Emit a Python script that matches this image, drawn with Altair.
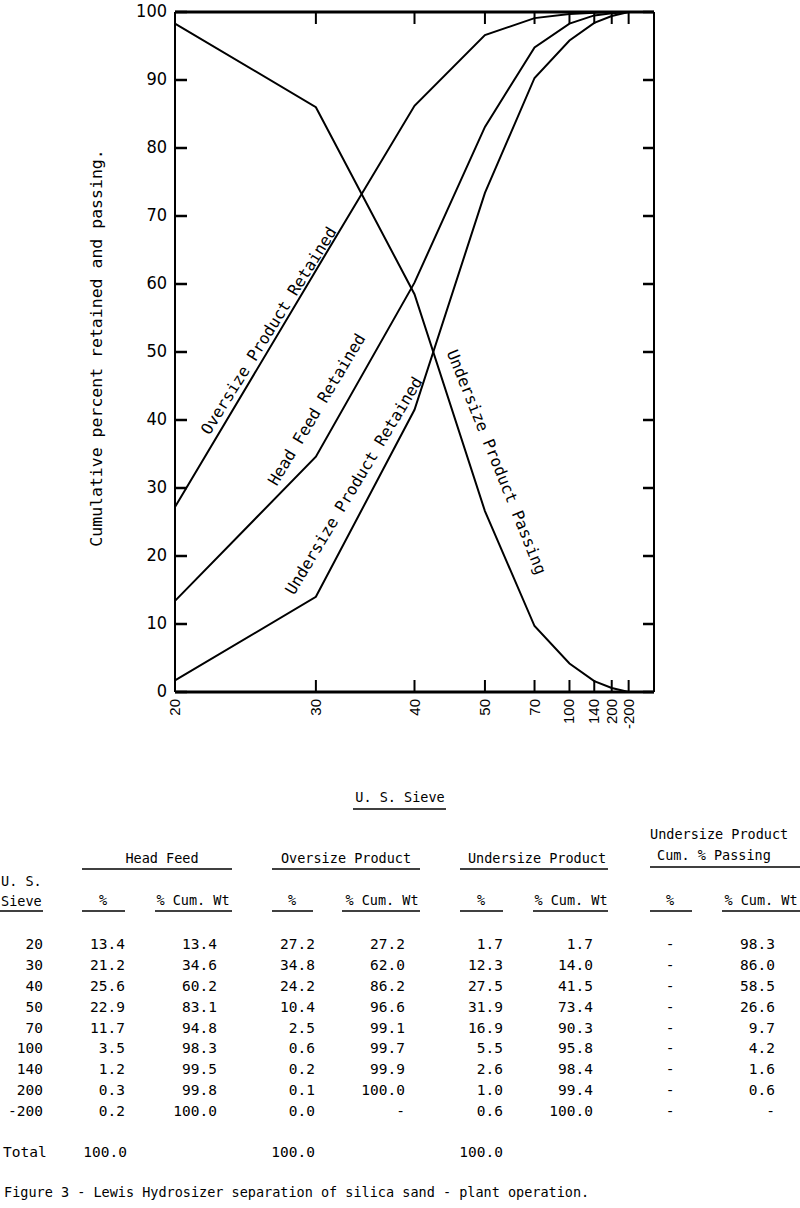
import altair as alt
import pandas as pd

# ---------------- data ----------------
sieves = ["20", "30", "40", "50", "70", "100", "140", "200", "-200"]
aperture_um = [850, 600, 425, 300, 212, 150, 106, 75, 45]   # sieve opening (pan placed after 200)

head_pct = [13.4, 21.2, 25.6, 22.9, 11.7, 3.5, 1.2, 0.3, 0.2]
head_cum = [13.4, 34.6, 60.2, 83.1, 94.8, 98.3, 99.5, 99.8, 100.0]
over_pct = [27.2, 34.8, 24.2, 10.4, 2.5, 0.6, 0.2, 0.1, 0.0]
over_cum = [27.2, 62.0, 86.2, 96.6, 99.1, 99.7, 99.9, 100.0, None]
under_pct = [1.7, 12.3, 27.5, 31.9, 16.9, 5.5, 2.6, 1.0, 0.6]
under_cum = [1.7, 14.0, 41.5, 73.4, 90.3, 95.8, 98.4, 99.4, 100.0]
pass_pct = [None] * 9
pass_cum = [98.3, 86.0, 58.5, 26.6, 9.7, 4.2, 1.6, 0.6, None]
totals = {"head": 100.0, "over": 100.0, "under": 100.0}

# values as drawn on the graph (curves reach 100 / 0 at the pan)
line_over = [27.2, 62.0, 86.2, 96.6, 99.1, 99.7, 99.9, 100.0, 100.0]
line_head = head_cum
line_under = under_cum
line_pass = [98.3, 86.0, 58.5, 26.6, 9.7, 4.2, 1.6, 0.6, 0.0]

y_ticks = [0, 10, 20, 30, 40, 50, 60, 70, 80, 90, 100]

line_labels = [
    ("Oversize Product Retained", 683, 53.1, 302),
    ("Head Feed Retained", 598, 41.5, 301),
    ("Undersize Product Retained", 532, 30.3, 301),
    ("Undersize Product Passing", 280, 33.8, 68),
]

caption = "Figure 3 - Lewis Hydrosizer separation of silica sand - plant operation."

# ---------------- style / layout ----------------
MONO = "DejaVu Sans Mono"
NARROW = "Liberation Sans Narrow, DejaVu Sans Condensed, Liberation Sans, sans-serif"
SANS = "Liberation Sans, Arial, sans-serif"
X0, X1, YT, YB = 175, 654, 12, 692

xs = alt.Scale(domain=[850, 0], range=[X0, X1], nice=False, zero=False)
ys = alt.Scale(domain=[0, 100], range=[YB, YT], nice=False, zero=False)
px = alt.Scale(domain=[0, 800], range=[0, 800], nice=False, zero=False)
py = alt.Scale(domain=[0, 1208], range=[0, 1208], nice=False, zero=False)

layers = []

# curves
rows = []
for name, vals in [("over", line_over), ("head", line_head), ("under", line_under), ("pass", line_pass)]:
    for i, (a, v) in enumerate(zip(aperture_um, vals)):
        rows.append({"series": name, "ap": a, "v": v, "i": i})
df_lines = pd.DataFrame(rows)
layers.append(
    alt.Chart(df_lines).mark_line(color="black", strokeWidth=2).encode(
        x=alt.X("ap:Q", scale=xs, axis=None),
        y=alt.Y("v:Q", scale=ys, axis=None),
        detail="series:N",
        order="i:Q",
    )
)

# frame
dummy = pd.DataFrame({"a": [0]})
frame = [
    (X0, X0, YT, YB, 2),
    (X1, X1, YT, YB, 2),
    (X0, X1, YT, YT, 3),
    (X0, X1, YB, YB, 3),
]
for xa, xb, ya, yb, w in frame:
    layers.append(
        alt.Chart(dummy).mark_rule(color="black", strokeWidth=w).encode(
            x=alt.value(xa), x2=alt.value(xb), y=alt.value(ya), y2=alt.value(yb)
        )
    )

# y ticks + labels
df_yt = pd.DataFrame({"v": y_ticks, "lab": [str(t) for t in y_ticks]})
layers.append(
    alt.Chart(df_yt).mark_rule(color="black", strokeWidth=2.5).encode(
        y=alt.Y("v:Q", scale=ys, axis=None), x=alt.value(X0), x2=alt.value(X0 + 12)
    )
)
layers.append(
    alt.Chart(df_yt).mark_rule(color="black", strokeWidth=2.5).encode(
        y=alt.Y("v:Q", scale=ys, axis=None), x=alt.value(X1 - 11), x2=alt.value(X1)
    )
)
layers.append(
    alt.Chart(df_yt).mark_text(align="right", baseline="middle", font=NARROW, fontSize=18, color="black").encode(
        y=alt.Y("v:Q", scale=ys, axis=None), x=alt.value(X0 - 8), text="lab:N"
    )
)

# x ticks + labels
df_xt = pd.DataFrame({"ap": aperture_um, "lab": sieves})
df_xt_in = df_xt.iloc[1:]
layers.append(
    alt.Chart(df_xt_in).mark_rule(color="black", strokeWidth=2).encode(
        x=alt.X("ap:Q", scale=xs, axis=None), y=alt.value(YB), y2=alt.value(YB - 12)
    )
)
layers.append(
    alt.Chart(df_xt_in).mark_rule(color="black", strokeWidth=2).encode(
        x=alt.X("ap:Q", scale=xs, axis=None), y=alt.value(YT), y2=alt.value(YT + 12)
    )
)
layers.append(
    alt.Chart(df_xt).mark_text(angle=270, align="right", baseline="middle", font=SANS, fontSize=15, color="black").encode(
        x=alt.X("ap:Q", scale=xs, axis=None), y=alt.value(YB + 7), text="lab:N"
    )
)

# y title
layers.append(
    alt.Chart(dummy).mark_text(angle=270, align="center", baseline="middle", font=MONO, fontSize=16.5, color="black").encode(
        x=alt.value(97), y=alt.value(348), text=alt.value("Cumulative percent retained and passing.")
    )
)

# curve labels
for lab, a, v, ang in line_labels:
    layers.append(
        alt.Chart(pd.DataFrame({"ap": [a], "v": [v], "t": [lab]})).mark_text(
            angle=ang, align="center", baseline="middle", font=MONO, fontSize=16, color="black"
        ).encode(x=alt.X("ap:Q", scale=xs, axis=None), y=alt.Y("v:Q", scale=ys, axis=None), text="t:N")
    )

# ---------------- table ----------------
def fmt(v):
    return "-\u00a0" if v is None else f"{v:.1f}"

row_scale = alt.Scale(domain=[0, 8], range=[945, 1112], nice=False, zero=False)
columns = [
    (sieves, 43, "right"),
    ([fmt(v) for v in head_pct], 125, "right"),
    ([fmt(v) for v in head_cum], 217, "right"),
    ([fmt(v) for v in over_pct], 315, "right"),
    ([fmt(v) for v in over_cum], 405, "right"),
    ([fmt(v) for v in under_pct], 503, "right"),
    ([fmt(v) for v in under_cum], 593, "right"),
    (["-" for v in pass_pct], 670, "center"),
    ([fmt(v) for v in pass_cum], 775, "right"),
]
for vals, xpos, al in columns:
    d = pd.DataFrame({"row": list(range(len(vals))), "t": vals})
    layers.append(
        alt.Chart(d).mark_text(align=al, baseline="middle", font=MONO, fontSize=14.5, color="black").encode(
            x=alt.value(xpos), y=alt.Y("row:Q", scale=row_scale, axis=None), text="t:N"
        )
    )

# header / total / caption texts (layout positions)
texts_center = [
    ("U. S. Sieve", 400, 798),
    ("Head Feed", 162, 859),
    ("Oversize Product", 346, 859),
    ("Undersize Product", 537, 859),
    ("%", 103, 901), ("% Cum. Wt", 193, 901),
    ("%", 292, 901), ("% Cum. Wt", 382, 901),
    ("%", 481, 901), ("% Cum. Wt", 571, 901),
    ("%", 670, 901), ("% Cum. Wt", 761, 901),
]
texts_left = [
    ("Undersize Product", 650, 835),
    ("Cum. % Passing", 657, 856),
    ("U. S.", 1, 882),
    ("Sieve", 1, 902),
    (caption, 4, 1193),
]
texts_num = [
    ("Total", 3, 1153, "left"),
    (f"{totals['head']:.1f}", 127, 1153, "right"),
    (f"{totals['over']:.1f}", 315, 1153, "right"),
    (f"{totals['under']:.1f}", 503, 1153, "right"),
]
for lst, al in [(texts_center, "center"), (texts_left, "left")]:
    d = pd.DataFrame(lst, columns=["t", "x", "y"])
    layers.append(
        alt.Chart(d).mark_text(align=al, baseline="middle", font=MONO, fontSize=13.5, color="black").encode(
            x=alt.X("x:Q", scale=px, axis=None), y=alt.Y("y:Q", scale=py, axis=None), text="t:N"
        )
    )
for t, x, y, al in texts_num:
    d = pd.DataFrame({"t": [t], "x": [x], "y": [y]})
    layers.append(
        alt.Chart(d).mark_text(align=al, baseline="middle", font=MONO, fontSize=14.5, color="black").encode(
            x=alt.X("x:Q", scale=px, axis=None), y=alt.Y("y:Q", scale=py, axis=None), text="t:N"
        )
    )

underlines = [
    (353, 446, 809),
    (82, 232, 869), (272, 420, 869), (460, 608, 869), (650, 800, 867),
    (0, 43, 911),
    (82, 125, 911), (155, 232, 911), (272, 313, 911), (342, 420, 911),
    (460, 503, 911), (533, 608, 911), (650, 692, 911), (722, 800, 911),
]
d_ul = pd.DataFrame(underlines, columns=["x1", "x2", "y"])
layers.append(
    alt.Chart(d_ul).mark_rule(color="black", strokeWidth=1.6).encode(
        x=alt.X("x1:Q", scale=px, axis=None), x2="x2:Q", y=alt.Y("y:Q", scale=py, axis=None)
    )
)

chart = (
    alt.layer(*layers)
    .resolve_scale(x="independent", y="independent")
    .properties(width=800, height=1208, padding=0, autosize=alt.AutoSizeParams(type="none"), background="white")
    .configure_view(stroke=None)
)

chart.save("out.html", embed_options={"renderer": "svg", "actions": False})
